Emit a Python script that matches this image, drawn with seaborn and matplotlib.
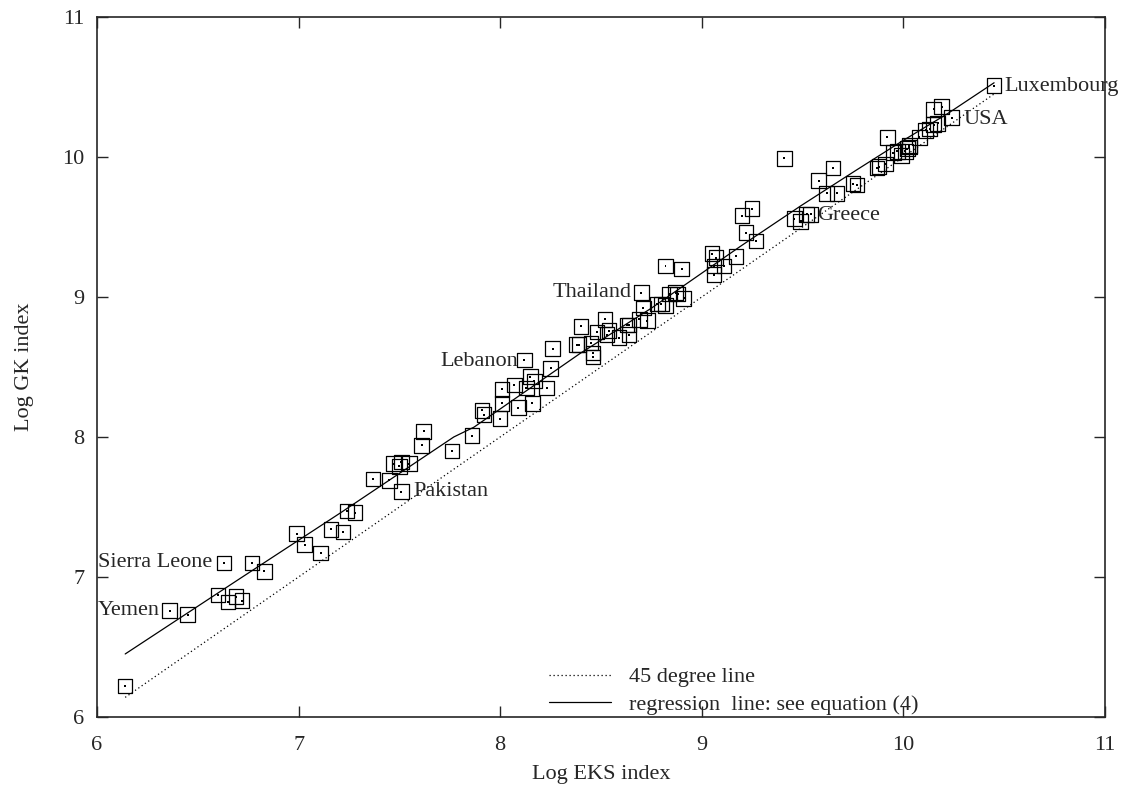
import numpy as np
import pandas as pd
import matplotlib
matplotlib.use('Agg')
import matplotlib.pyplot as plt
import seaborn as sns

# log EKS (x) and log GK (y) per country
eks = [6.14, 6.36, 6.45, 6.63, 6.77, 6.83, 6.60, 6.65, 6.69, 6.72,
       6.99, 7.03, 7.11, 7.16, 7.22, 7.24, 7.28, 7.37, 7.45, 7.47,
       7.51, 7.50, 7.55, 7.51, 7.61, 7.62, 7.76, 7.86, 7.91, 7.92,
       8.00, 8.01, 8.09, 8.01, 8.07, 8.12, 8.13, 8.15, 8.16, 8.17,
       8.23, 8.25, 8.26, 8.40, 8.38, 8.39, 8.45, 8.46, 8.46, 8.48,
       8.52, 8.53, 8.54, 8.59, 8.63, 8.64, 8.64, 8.69, 8.70, 8.71,
       8.73, 8.78, 8.80, 8.82, 8.82, 8.84, 8.87, 8.88, 8.90, 8.91,
       9.05, 9.07, 9.06, 9.11, 9.06, 9.17, 9.22, 9.20, 9.25, 9.27,
       9.41, 9.46, 9.49, 9.52, 9.54, 9.58, 9.62, 9.67, 9.65, 9.75,
       9.77, 9.87, 9.88, 9.91, 9.92, 9.95, 9.97, 9.99, 10.01, 10.02,
       10.03, 10.03, 10.08, 10.11, 10.13, 10.15, 10.17, 10.15, 10.19,
       10.24, 10.45]
gk = [6.22, 6.76, 6.73, 7.10, 7.10, 7.04, 6.87, 6.82, 6.86, 6.83,
      7.31, 7.23, 7.17, 7.34, 7.32, 7.47, 7.46, 7.70, 7.69, 7.81,
      7.82, 7.79, 7.81, 7.61, 7.94, 8.04, 7.90, 8.01, 8.19, 8.16,
      8.13, 8.24, 8.21, 8.34, 8.37, 8.55, 8.35, 8.43, 8.24, 8.40,
      8.35, 8.49, 8.63, 8.79, 8.66, 8.66, 8.67, 8.60, 8.57, 8.75,
      8.84, 8.73, 8.76, 8.71, 8.80, 8.80, 8.73, 8.84, 9.03, 8.92,
      8.83, 8.95, 8.95, 8.94, 9.22, 9.02, 9.03, 9.02, 9.20, 8.99,
      9.31, 9.28, 9.22, 9.22, 9.16, 9.29, 9.46, 9.58, 9.63, 9.40,
      9.99, 9.56, 9.54, 9.59, 9.59, 9.83, 9.74, 9.74, 9.92, 9.81,
      9.80, 9.92, 9.93, 9.95, 10.14, 10.03, 10.04, 10.01, 10.04, 10.06,
      10.07, 10.08, 10.14, 10.19, 10.20, 10.23, 10.24, 10.34, 10.36,
      10.28, 10.51]

# fitted regression values
reg_x = [6.14, 6.70, 7.21, 7.77, 7.87, 8.09, 8.40, 8.75, 9.19, 9.49,
         9.76, 9.99, 10.22, 10.45]
reg_y = [6.45, 6.98, 7.46, 8.00, 8.07, 8.29, 8.60, 8.92, 9.36, 9.65,
         9.90, 10.11, 10.31, 10.53]

diag = [6.14, 10.45]

labels = ['Luxembourg', 'USA', 'Greece', 'Thailand', 'Lebanon',
          'Pakistan', 'Sierra Leone', 'Yemen']
label_x = [10.50, 10.30, 9.57, 8.65, 8.09, 7.57, 6.57, 6.31]
label_y = [10.50, 10.27, 9.58, 9.03, 8.54, 7.61, 7.10, 6.76]
label_ha = ['left', 'left', 'left', 'right', 'right', 'left', 'right', 'right']

df = pd.DataFrame({'eks': eks, 'gk': gk})

sns.set_style('ticks')
plt.rcParams['font.family'] = ['Liberation Serif', 'DejaVu Serif']

fig = plt.figure(figsize=(11.25, 7.89), dpi=100)
ax = fig.add_axes([0.0862, 0.0913, 0.8960, 0.8872])

sns.lineplot(x=diag, y=diag, ax=ax, color='black', linestyle=(0, (1, 2.2)),
             linewidth=0.9, label='45 degree line')
sns.lineplot(x=reg_x, y=reg_y, ax=ax, color='black', linewidth=0.9,
             label='regression  line: see equation (4)', sort=False)
sns.scatterplot(data=df, x='eks', y='gk', ax=ax, marker='s', s=110,
                facecolor='none', edgecolor='black', linewidth=0.9, zorder=3)
sns.scatterplot(data=df, x='eks', y='gk', ax=ax, marker='s', s=2,
                color='black', edgecolor='none', zorder=4)

for name, lx, ly, ha in zip(labels, label_x, label_y, label_ha):
    ax.text(lx, ly, name, ha=ha, va='center', fontsize=16)

ax.set_xlim(6, 11)
ax.set_ylim(6, 11)
ax.set_xticks([6, 7, 8, 9, 10, 11])
ax.set_yticks([6, 7, 8, 9, 10, 11])
ax.tick_params(direction='in', length=8, width=1, labelsize=16,
               top=True, right=True)
ax.tick_params(axis='x', pad=14)
ax.tick_params(axis='y', pad=9)
for sp in ax.spines.values():
    sp.set_linewidth(1.2)
ax.set_xlabel('Log EKS index', fontsize=16, labelpad=7)
ax.set_ylabel('Log GK index', fontsize=16, labelpad=20)

ax.legend(loc='lower right', bbox_to_anchor=(0.83, -0.019), frameon=False,
          fontsize=16, handlelength=2.8, handletextpad=0.8, labelspacing=0.3,
          borderaxespad=0.3)

fig.savefig('out.png', dpi=100)
